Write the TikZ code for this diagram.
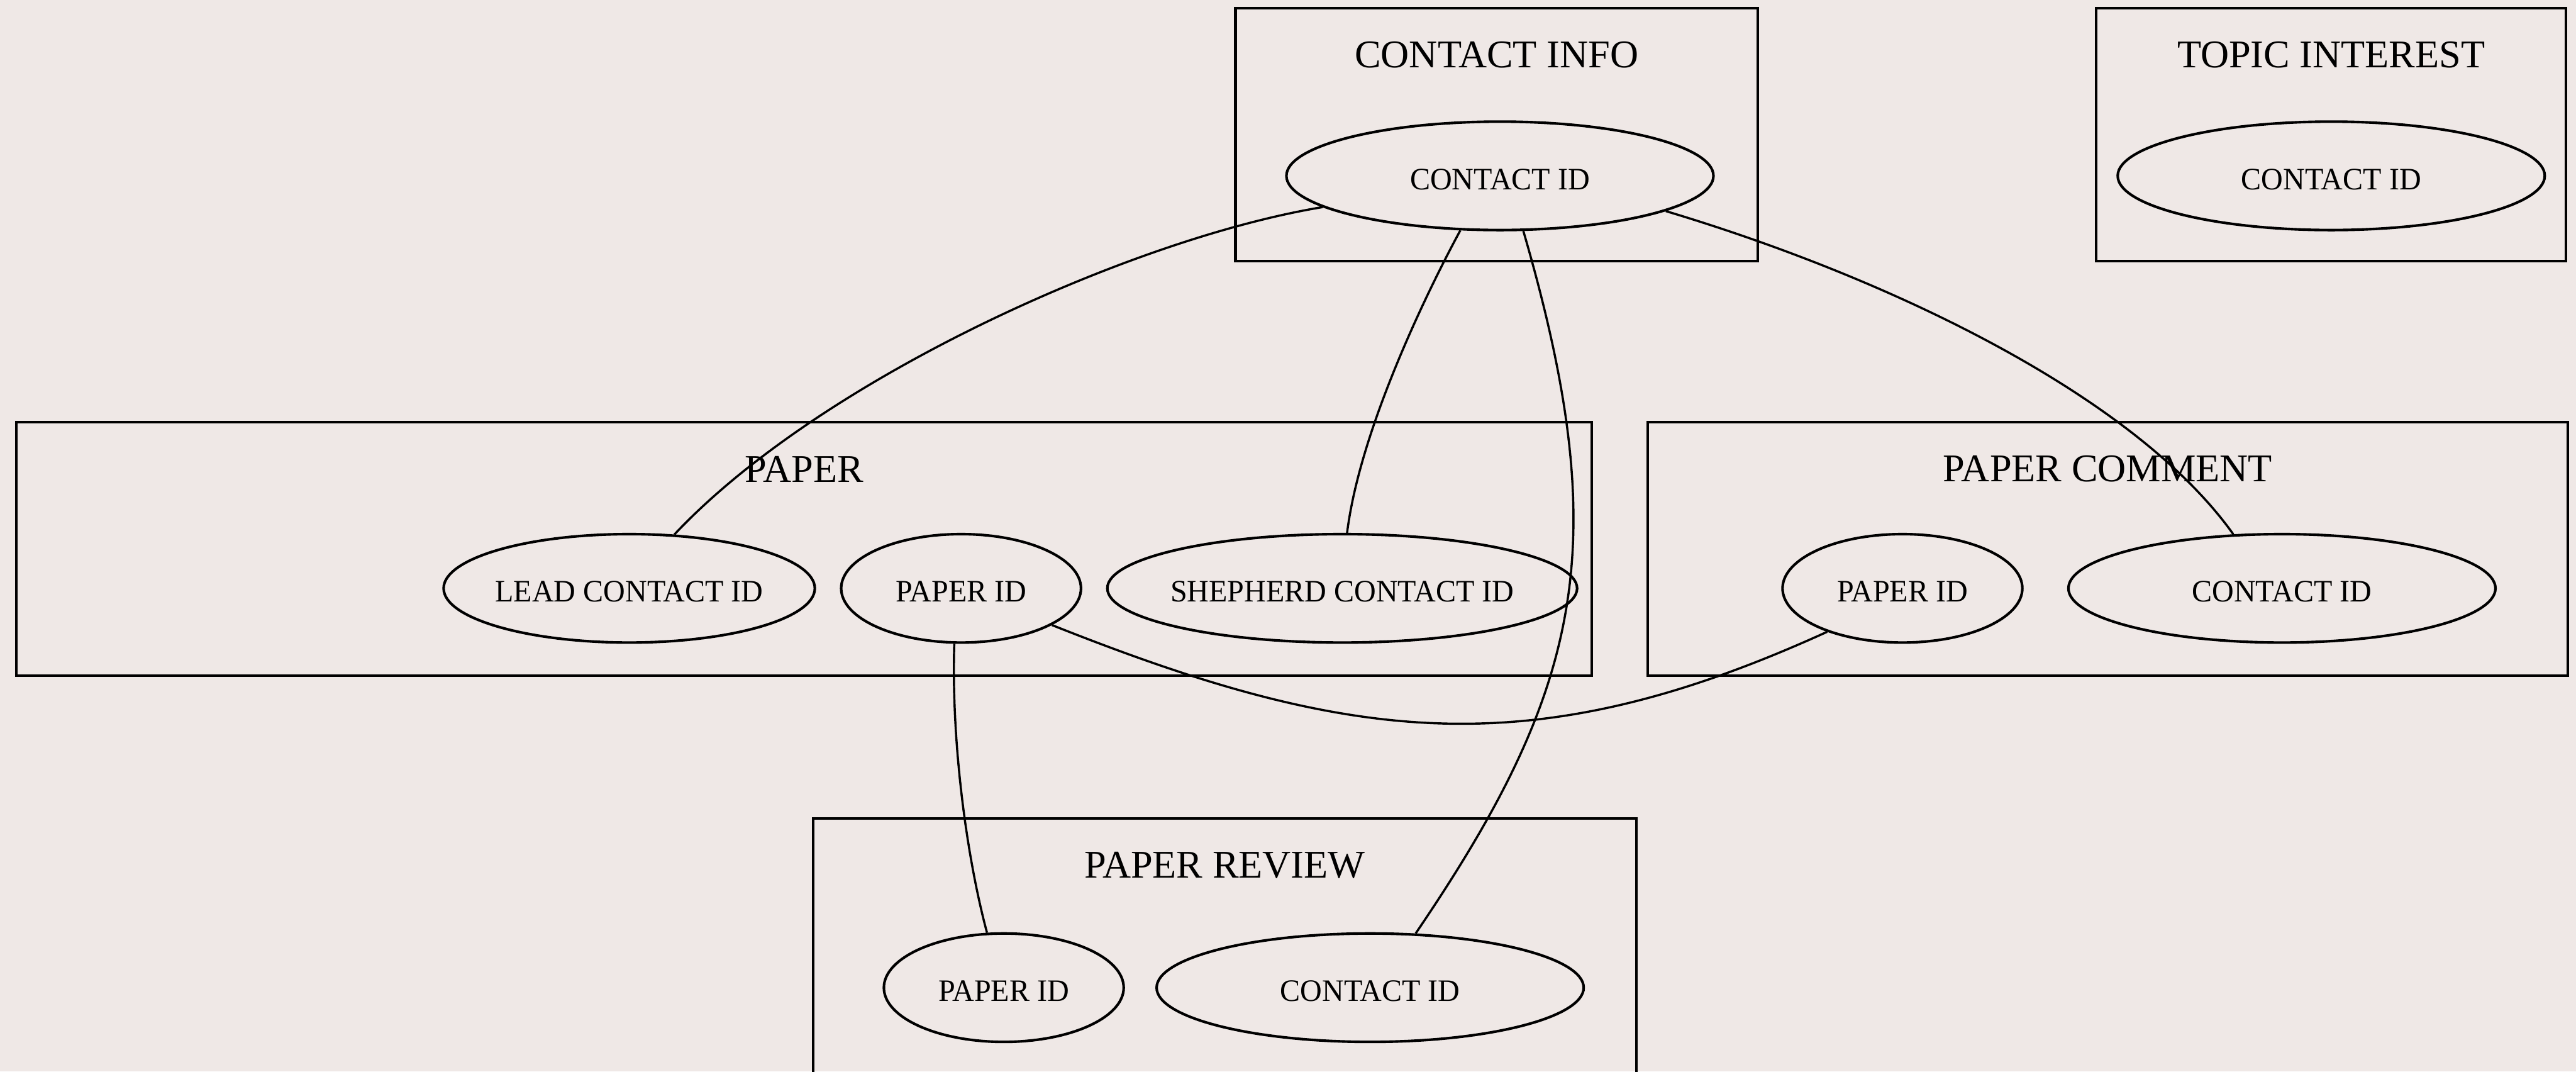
\documentclass[tikz,border=0pt]{standalone}
\usepackage{fontspec}
\setmainfont{Liberation Serif}
\newfontfamily\fieldfont{Liberation Serif}[FakeStretch=0.97]
\usetikzlibrary{shapes.geometric}
\definecolor{sheet}{HTML}{EFE8E6}
% field text takes no width, so the ellipse keeps its set size
\newcommand\cell[1]{\makebox[0pt]{#1}}
\begin{document}
\begin{tikzpicture}[x=0.02cm,y=-0.02cm,
  tbl/.style={draw, rectangle, line width=0.9pt, inner sep=0pt, minimum height=3.08cm},
  ttl/.style={inner sep=0pt, font=\fontsize{13.6}{15}\selectfont},
  fld/.style={draw, ellipse, line width=0.9pt, inner sep=0pt, minimum height=1.32cm,
              text height=9.5pt, text depth=0pt,
              font=\fieldfont\fontsize{10.8}{12}\selectfont},
  lnk/.style={line width=0.75pt}]
\fill[sheet] (0,0) rectangle (1568,652);
\useasboundingbox (0,0) rectangle (1568,652);

% tables
\node[tbl, minimum width=6.36cm]  (info)   at (911,82)    {};
\node[tbl, minimum width=5.72cm]  (topic)  at (1419,82)   {};
\node[tbl, minimum width=19.18cm] (paper)  at (489.5,334) {};
\node[tbl, minimum width=11.2cm]  (pcom)   at (1283,334)  {};
\node[tbl, minimum width=10.02cm, minimum height=3.3cm] (prev) at (745.5,580.5) {};

% table titles
\node[ttl] (infoT)  at (911,33.4)   {CONTACT INFO};
\node[ttl] (topicT) at (1419,33.4)  {TOPIC INTEREST};
\node[ttl] (paperT) at (489.5,285.4) {PAPER};
\node[ttl] (pcomT)  at (1283,285.4) {PAPER COMMENT};
\node[ttl] (prevT)  at (745.5,526.4) {PAPER REVIEW};

% fields
\node[fld, minimum width=5.2cm]  (ciContact) at (913,107)  {\cell{CONTACT ID}};
\node[fld, minimum width=5.2cm]  (tiContact) at (1419,107) {\cell{CONTACT ID}};
\node[fld, minimum width=4.52cm] (pLead)     at (383,358)  {\cell{LEAD CONTACT ID}};
\node[fld, minimum width=2.92cm] (pPaper)    at (585,358)  {\cell{PAPER ID}};
\node[fld, minimum width=5.72cm] (pShep)     at (817,358)  {\cell{SHEPHERD CONTACT ID}};
\node[fld, minimum width=2.92cm] (pcPaper)   at (1158,358) {\cell{PAPER ID}};
\node[fld, minimum width=5.2cm]  (pcContact) at (1389,358) {\cell{CONTACT ID}};
\node[fld, minimum width=2.92cm] (prPaper)   at (611,601)  {\cell{PAPER ID}};
\node[fld, minimum width=5.2cm]  (prContact) at (834,601)  {\cell{CONTACT ID}};

% links
\draw[lnk] (ciContact.190) .. controls (690,145) and (500,230) .. (pLead.50);
\draw[lnk] (ciContact.234) .. controls (870,175) and (828,260) .. (pShep.85);
\draw[lnk] (ciContact.293) .. controls (983,332) and (963,419) .. (prContact.50);
\draw[lnk] (ciContact.348) .. controls (1156,171) and (1301,243) .. (pcContact.132);
\draw[lnk] (pPaper.263) .. controls (579,450) and (588,520) .. (prPaper.107);
\draw[lnk] (pPaper.338) .. controls (823,453) and (933,466) .. (pcPaper.210);
\end{tikzpicture}
\end{document}
